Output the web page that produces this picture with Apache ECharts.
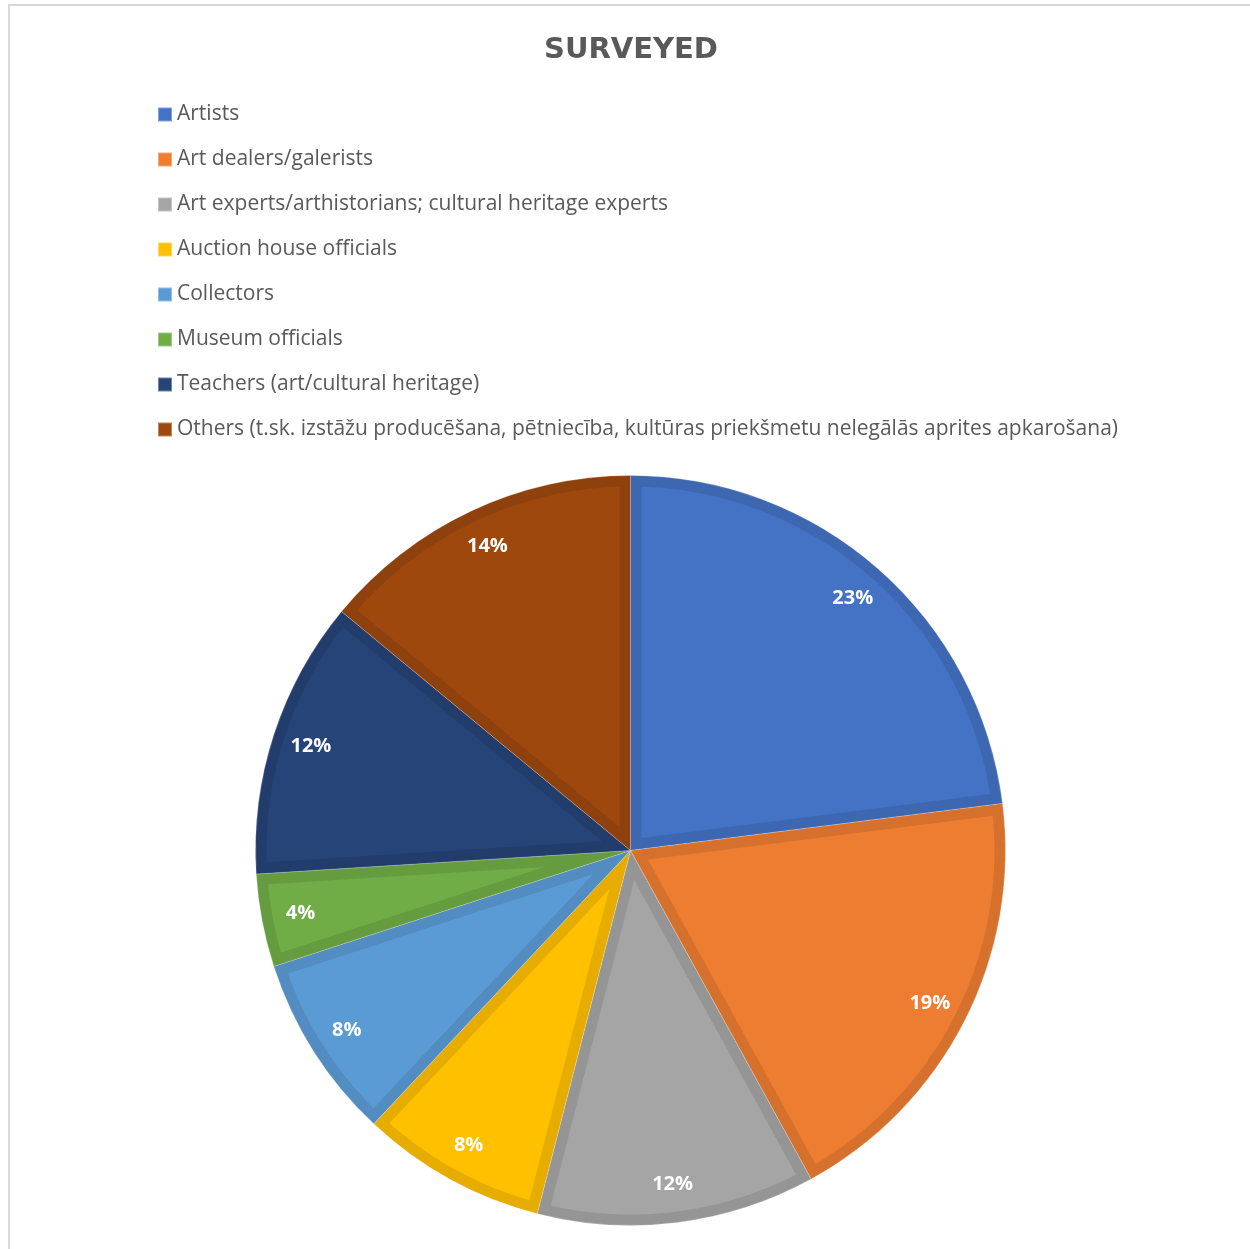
<!DOCTYPE html>
<html>
<head>
<meta charset="utf-8">
<title>Surveyed</title>
<script src="https://cdn.jsdelivr.net/npm/echarts@6/dist/echarts.min.js"></script>
<style>
  html, body { margin: 0; padding: 0; background: #fff; }
  #chart { width: 1250px; height: 1249px; }
</style>
</head>
<body>
<div id="chart"></div>
<script>
// Respondent groups and their shares (percent)
const categories = [
  'Artists',
  'Art dealers/galerists',
  'Art experts/arthistorians; cultural heritage experts',
  'Auction house officials',
  'Collectors',
  'Museum officials',
  'Teachers (art/cultural heritage)',
  'Others (t.sk. izstāžu producēšana, pētniecība, kultūras priekšmetu nelegālās aprites apkarošana)'
];
const values = [23, 19, 12, 8, 8, 4, 12, 14];

// Slice fills and their darker edge bands
const fillColors = ['#4472C4', '#ED7D31', '#A5A5A5', '#FFC000', '#5B9BD5', '#70AD47', '#264478', '#9E480E'];
const edgeColors = ['#3E67B1', '#D6712D', '#959595', '#E6AD00', '#528CC0', '#659C40', '#223D6C', '#8E410D'];

const CX = 630.5, CY = 850.5, R = 375, BAND = 11;
const FONT = '"Open Sans", "Noto Sans", sans-serif';
const total = values.reduce((a, b) => a + b, 0);
const startFrac = values.map((v, i) => values.slice(0, i).reduce((a, b) => a + b, 0) / total);

function pt(angle, r) {
  return [CX + r * Math.sin(angle), CY - r * Math.cos(angle)];
}

// Inner lighter face of each slice, inset from every edge by BAND px, plus its percent label
function renderFace(params, api) {
  const i = params.dataIndex;
  const v = api.value(0);
  const a0 = startFrac[i] * 2 * Math.PI;
  const a1 = a0 + v / total * 2 * Math.PI;
  const half = (a1 - a0) / 2;
  const mid = a0 + half;
  const rho = R - BAND;
  const delta = Math.asin(BAND / rho);
  const points = [pt(mid, BAND / Math.sin(half))];
  const steps = 60;
  for (let k = 0; k <= steps; k++) {
    const a = (a0 + delta) + (a1 - a0 - 2 * delta) * k / steps;
    points.push(pt(a, rho));
  }
  const lp = pt(mid, R * 0.896);
  return {
    type: 'group',
    children: [
      { type: 'polygon', shape: { points }, style: { fill: fillColors[i] } },
      {
        type: 'text', x: lp[0], y: lp[1],
        style: {
          text: Math.round(v / total * 100) + '%',
          fill: '#ffffff', fontSize: 20, fontWeight: 'bold', fontFamily: FONT,
          align: 'center', verticalAlign: 'middle'
        }
      }
    ]
  };
}

const chart = echarts.init(document.getElementById('chart'), null, { renderer: 'canvas' });
chart.setOption({
  animation: false,
  backgroundColor: '#ffffff',
  graphic: [{
    type: 'polyline', silent: true,
    shape: { points: [[9, 1260], [9, 5], [1260, 5]] },
    style: { stroke: '#D9D9D9', lineWidth: 2, fill: null }
  }],
  title: {
    text: 'SURVEYED',
    left: 539,
    top: 31,
    textStyle: { color: '#595959', fontSize: 29, fontWeight: 'bold', fontFamily: '"DejaVu Sans", sans-serif' }
  },
  legend: {
    orient: 'vertical',
    left: 152,
    top: 99,
    itemWidth: 14,
    itemHeight: 14,
    itemGap: 24,
    icon: 'rect',
    selectedMode: false,
    textStyle: { color: '#595959', fontSize: 21, fontFamily: FONT, lineHeight: 21 },
    data: categories.map((name, i) => ({ name, itemStyle: { color: fillColors[i] } }))
  },
  series: [
    {
      type: 'pie',
      center: [CX, CY],
      radius: [0, R],
      startAngle: 90,
      clockwise: true,
      silent: true,
      label: { show: false },
      labelLine: { show: false },
      itemStyle: { borderWidth: 0.6, borderColor: 'rgba(255,255,255,0.35)' },
      emphasis: { disabled: true },
      data: categories.map((name, i) => ({ name, value: values[i], itemStyle: { color: edgeColors[i] } })),
      z: 2
    },
    {
      type: 'custom',
      coordinateSystem: 'none',
      silent: true,
      renderItem: renderFace,
      data: values.map(v => [v]),
      z: 3
    }
  ]
});
</script>
</body>
</html>
